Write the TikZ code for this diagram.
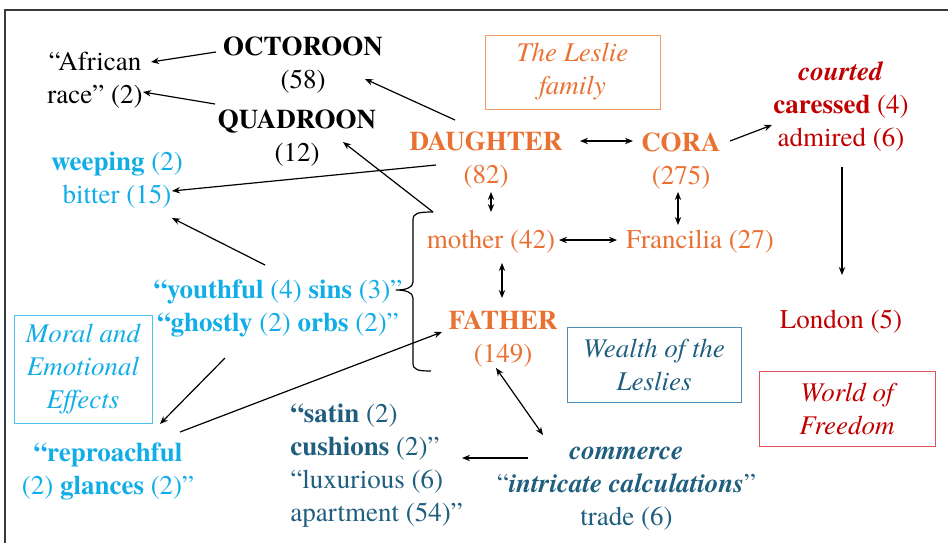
\documentclass[tikz,border=0pt]{standalone}
\usepackage{fontspec}
\setmainfont{TeX Gyre Termes}
\usepackage{xcolor}
\usepackage{tikz}
\usetikzlibrary{arrows.meta}
\definecolor{leslieorange}{HTML}{E97132}
\definecolor{leslieline}{HTML}{F29A68}
\definecolor{moralblue}{HTML}{10ADE6}
\definecolor{moralline}{HTML}{4CC4F0}
\definecolor{wealthteal}{HTML}{1F5E7E}
\definecolor{wealthline}{HTML}{4A8FBC}
\definecolor{freedomred}{HTML}{C00000}
\definecolor{freedomline}{HTML}{E0505A}
\definecolor{framegray}{HTML}{3A3A3A}
\tikzset{
  word/.style={align=center,inner sep=2pt,font=\fontsize{13.5}{16.5}\selectfont},
  race/.style={word,text=black},
  family/.style={word,text=leslieorange},
  moral/.style={word,text=moralblue},
  wealth/.style={word,text=wealthteal},
  freedom/.style={word,text=freedomred},
  themebox/.style={draw,line width=0.5pt,align=center,inner sep=0pt,font=\fontsize{13.5}{16.5}\selectfont\itshape},
  link/.style={-{Stealth[length=4pt,width=3.2pt]},line width=0.6pt,black},
  twoway/.style={{Stealth[length=4pt,width=3.2pt]}-{Stealth[length=4pt,width=3.2pt]},line width=0.6pt,black},
  bracket/.style={line width=0.6pt,black}
}

\begin{document}
\begin{tikzpicture}[x=0.5pt,y=-0.5pt]
  \useasboundingbox (0,0) rectangle (948,542);
  \draw[line width=1pt,framegray] (5,560) -- (5,10) -- (960,10);

  % theme boxes
  \node[themebox,draw=leslieline,text=leslieorange,minimum width=87.5pt,minimum height=37pt] (lesliebox) at (572.5,72) {The Leslie\\family};
  \node[themebox,draw=wealthline,text=wealthteal,minimum width=87pt,minimum height=37.5pt] (wealthbox) at (654,364.5) {Wealth of the\\Leslies};
  \node[themebox,draw=freedomline,text=freedomred,minimum width=88pt,minimum height=37.5pt] (freedombox) at (847,408.5) {World of\\Freedom};
  \node[themebox,draw=moralline,text=moralblue,minimum width=69pt,minimum height=54pt] (moralbox) at (83,369) {Moral and\\Emotional\\Effects};

  % words
  \node[race] (african) at (95,80.5) {“African\\race” (2)};
  \node[race] (octo) at (303,65) {\textbf{OCTOROON}\\(58)};
  \node[race] (quad) at (297,138) {\textbf{QUADROON}\\(12)};
  \node[moral] (weeping) at (117,180.5) {\textbf{weeping} (2)\\bitter (15)};
  \node[family] (daughter) at (486,160.5) {\textbf{DAUGHTER}\\(82)};
  \node[family] (cora) at (681,161.5) {\textbf{CORA}\\(275)};
  \node[freedom] (courted) at (841,106.5) {\textbf{\textit{courted}}\\\textbf{caressed} (4)\\admired (6)};
  \node[family] (mother) at (491,241.5) {mother (42)};
  \node[family] (francilia) at (700,241.5) {Francilia (27)};
  \node[family] (father) at (503,339) {\textbf{FATHER}\\(149)};
  \node[freedom] (london) at (841,321.5) {London (5)};
  \node[moral] (sins) at (278,308.5) {\textbf{“youthful} (4) \textbf{sins} (3)”\\\textbf{“ghostly} (2) \textbf{orbs} (2)”};
  \node[moral] (reproach) at (108,471.5) {\textbf{“reproachful}\\(2) \textbf{glances} (2)”};
  \node[wealth,align=left,anchor=west] (satin) at (286,466) {\textbf{“satin} (2)\\\textbf{cushions} (2)”\\“luxurious (6)\\apartment (54)”};
  \node[wealth] (commerce) at (626.5,488.5) {\textbf{\textit{commerce}}\\“\textbf{\textit{intricate calculations}}”\\trade (6)};

  % brace round mother and father
  \coordinate (bracetop) at (433,212);
  \coordinate (bracebot) at (431,371);
  \draw[bracket] (bracetop) .. controls (418,212) and (413,213) .. (413,220) -- (413,282)
    .. controls (413,288) and (405,290) .. (396,290)
    .. controls (405,290) and (413,292) .. (413,298) -- (413,363)
    .. controls (413,370) and (418,371) .. (bracebot);

  % connectors
  \draw[link] ([shift={(-87,-13)}]octo.center) -- ([shift={(56,-18.5)}]african.center);
  \draw[link] ([shift={(-82,-34)}]quad.center) -- ([shift={(48,11.5)}]african.center);
  \draw[link] ([shift={(-31,-40.5)}]daughter.center) -- ([shift={(62,14)}]octo.center);
  \draw[link] (bracetop) -- ([shift={(46,4)}]quad.center);
  \draw[link] ([shift={(-50,4.5)}]daughter.center) -- ([shift={(55,10.5)}]weeping.center);
  \draw[link] ([shift={(-13,-43.5)}]sins.center) -- ([shift={(55,37.5)}]weeping.center);
  \draw[twoway] ([shift={(94,-19.5)}]daughter.center) -- ([shift={(-48,-20.5)}]cora.center);
  \draw[link] ([shift={(49,-20.5)}]cora.center) -- ([shift={(-69,18.5)}]courted.center);
  \draw[link] ([shift={(1,60.5)}]courted.center) -- ([shift={(1,-46.5)}]london.center);
  \draw[twoway] ([shift={(5,31.5)}]daughter.center) -- ([shift={(0,-29.5)}]mother.center);
  \draw[twoway] ([shift={(-3,30.5)}]cora.center) -- ([shift={(-22,-16.5)}]francilia.center);
  \draw[twoway] ([shift={(68,-1.5)}]mother.center) -- ([shift={(-83,-1.5)}]francilia.center);
  \draw[twoway] ([shift={(11,21.5)}]mother.center) -- ([shift={(-1,-41)}]father.center);
  \draw[link] ([shift={(-53,49.5)}]sins.center) -- ([shift={(52,-47.5)}]reproach.center);
  \draw[link] ([shift={(72,-39.5)}]reproach.center) -- ([shift={(-61,-7)}]father.center);
  \draw[twoway] ([shift={(-7,29)}]father.center) -- ([shift={(-83.5,-53.5)}]commerce.center);
  \draw[link] ([shift={(-98.5,-30.5)}]commerce.center) -- ([shift={(176,-8)}]satin.west);
\end{tikzpicture}
\end{document}
